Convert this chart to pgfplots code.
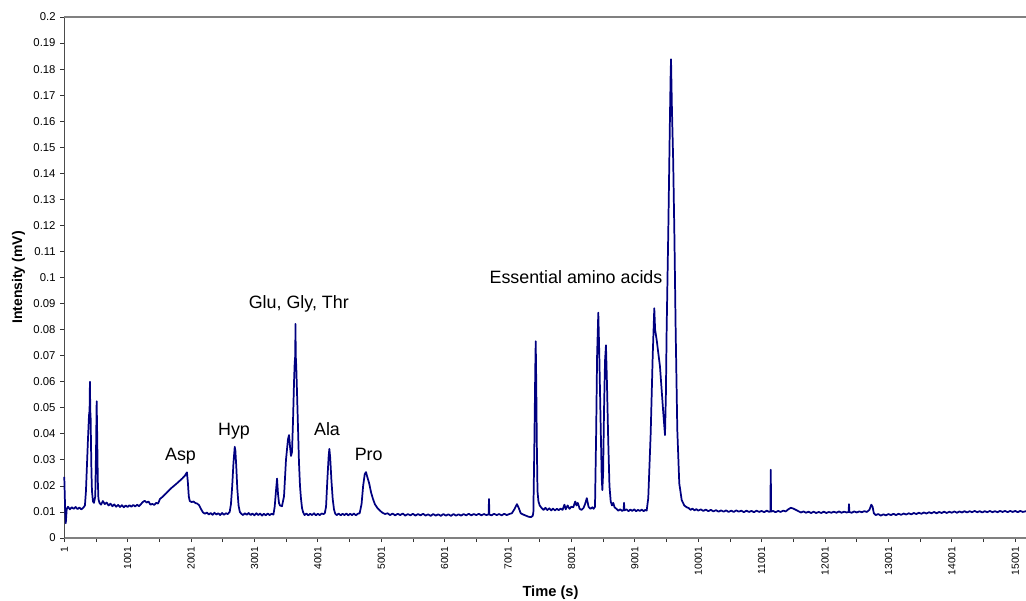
\documentclass[border=0pt]{standalone}
\usepackage{pgfplots}
\pgfplotsset{compat=1.18}
\usepackage{fontspec}
\setmainfont{Liberation Sans}
\usetikzlibrary{calc}
\definecolor{navyline}{RGB}{0,0,128}
\definecolor{axgray}{RGB}{128,128,128}
\begin{document}
\begin{tikzpicture}
\begin{axis}[
  scale only axis,
  width=721.3pt, height=390.75pt,
  xmin=1, xmax=15170, ymin=0, ymax=0.2,
  clip=false,
  axis x line*=bottom, axis y line*=left,
  x axis line style={axgray, line width=1.2pt, -},
  y axis line style={black!70, line width=0.9pt, -},
  scaled x ticks=false, scaled y ticks=false,
  xtick={1,1001,2001,3001,4001,5001,6001,7001,8001,9001,10001,11001,12001,13001,14001,15001},
  xticklabels={1,1001,2001,3001,4001,5001,6001,7001,8001,9001,10001,11001,12001,13001,14001,15001},
  minor xtick={501,1501,2501,3501,4501,5501,6501,7501,8501,9501,10501,11501,12501,13501,14501},
  ytick={0,0.01,0.02,0.03,0.04,0.05,0.06,0.07,0.08,0.09,0.1,0.11,0.12,0.13,0.14,0.15,0.16,0.17,0.18,0.19,0.2},
  yticklabels={0,0.01,0.02,0.03,0.04,0.05,0.06,0.07,0.08,0.09,0.1,0.11,0.12,0.13,0.14,0.15,0.16,0.17,0.18,0.19,0.2},
  tick align=outside,
  major tick length=3pt, minor tick length=3pt,
  every tick/.style={black!80, line width=0.6pt},
  xticklabel style={rotate=90, anchor=east, font=\fontsize{7.7}{8.5}\selectfont},
  yticklabel style={font=\fontsize{8.5}{10}\selectfont},
  xlabel={\textbf{Time (s)}},
  ylabel={\textbf{Intensity (mV)}},
  xlabel style={at={(axis description cs:0.5056,-0.1127)}, anchor=base, font=\fontsize{11}{13}\selectfont},
  ylabel style={at={(axis description cs:-0.0475,0.5)}, anchor=center, font=\fontsize{10.5}{12}\selectfont},
]
\addplot[navyline, line width=1.3pt, line join=round] coordinates {
(1,0.0235)(15,0.011)(25,0.0057)(40,0.0112)
(60,0.0120)(90,0.0110)(120,0.0118)(150,0.0112)(180,0.0119)(210,0.0111)(240,0.0117)(270,0.0110)(300,0.0116)(327,0.0125)
(343,0.018)(359,0.028)(375,0.038)(391,0.047)(400,0.049)(406,0.060)(411,0.049)(417,0.046)(424,0.034)(430,0.025)(438,0.018)(454,0.014)(470,0.0135)(490,0.016)(503,0.035)(512,0.0525)(520,0.040)(530,0.022)(540,0.015)(556,0.0135)
(580,0.0128)(610,0.0142)(640,0.0130)(670,0.0136)(700,0.0125)(730,0.0132)(760,0.0122)(790,0.0129)(820,0.0120)(850,0.0127)(880,0.0119)(910,0.0126)(940,0.0118)(970,0.0125)(1000,0.0119)(1030,0.0126)(1060,0.0120)(1090,0.0127)(1120,0.0121)(1150,0.0128)(1180,0.0122)
(1210,0.0130)(1240,0.0138)(1270,0.0143)(1300,0.0136)(1330,0.0140)(1360,0.0128)(1390,0.0131)(1420,0.0127)(1450,0.0135)
(1480,0.0132)(1511,0.0150)(1560,0.0160)(1610,0.0172)(1660,0.0185)(1710,0.0196)(1760,0.0206)(1810,0.0217)(1860,0.0228)(1900,0.0238)(1936,0.0252)(1950,0.0215)(1965,0.0160)(1980,0.0142)(2010,0.0138)(2040,0.0140)(2070,0.0134)(2100,0.0132)(2130,0.0125)(2160,0.0110)(2190,0.0098)(2220,0.0093)
(2250,0.0098)(2280,0.0090)(2310,0.0096)(2340,0.0089)(2370,0.0097)(2400,0.0090)(2430,0.0095)(2460,0.0088)(2490,0.0096)(2520,0.0089)(2550,0.0095)(2580,0.0092)
(2610,0.0100)(2630,0.0130)(2650,0.0200)(2670,0.0290)(2690,0.0350)(2700,0.0335)(2715,0.0270)(2730,0.0190)(2750,0.0125)(2770,0.0100)(2790,0.0094)
(2820,0.0088)(2850,0.0095)(2880,0.0089)(2910,0.0096)(2940,0.0088)(2970,0.0094)(3000,0.0087)(3030,0.0095)(3060,0.0088)(3090,0.0094)(3120,0.0086)(3150,0.0093)(3180,0.0087)(3210,0.0094)(3240,0.0088)(3270,0.0093)(3300,0.0090)
(3320,0.0120)(3340,0.0180)(3357,0.0228)(3372,0.0170)(3388,0.0134)(3404,0.0125)(3435,0.0122)(3467,0.0160)(3498,0.0300)(3530,0.0380)(3546,0.0395)(3562,0.0350)(3577,0.0315)
(3593,0.0330)(3609,0.0450)(3625,0.0600)(3635,0.0670)(3644,0.0700)(3648,0.0822)(3652,0.0700)(3660,0.0660)(3672,0.0560)(3688,0.0420)(3703,0.0290)(3719,0.0200)(3735,0.0150)(3751,0.0115)(3767,0.0100)
(3790,0.0088)(3820,0.0094)(3850,0.0087)(3880,0.0093)(3910,0.0088)(3940,0.0095)(3970,0.0087)(4000,0.0093)(4030,0.0088)(4060,0.0094)(4090,0.0092)
(4110,0.0095)(4130,0.0120)(4150,0.0220)(4170,0.0310)(4182,0.0342)(4195,0.0310)(4215,0.0220)(4235,0.0150)(4255,0.0110)(4275,0.0093)
(4300,0.0088)(4330,0.0094)(4360,0.0087)(4390,0.0093)(4420,0.0088)(4450,0.0094)(4480,0.0087)(4510,0.0093)(4540,0.0088)(4570,0.0094)(4600,0.0087)(4630,0.0093)
(4660,0.0095)(4690,0.0130)(4715,0.0200)(4740,0.0245)(4760,0.0253)(4780,0.0235)(4810,0.0210)(4840,0.0175)(4870,0.0150)(4900,0.0130)(4940,0.0115)(4980,0.0105)(5020,0.0097)(5060,0.0092)
(5100,0.0095)(5140,0.0088)(5180,0.0094)(5220,0.0087)(5260,0.0093)(5300,0.0088)(5340,0.0094)(5380,0.0086)(5420,0.0092)(5460,0.0087)(5500,0.0093)(5540,0.0086)(5580,0.0092)(5620,0.0087)(5660,0.0093)(5700,0.0086)(5740,0.0091)(5780,0.0085)(5820,0.0092)(5860,0.0086)(5900,0.0091)(5940,0.0085)(5980,0.0092)(6020,0.0086)(6060,0.0091)(6100,0.0085)(6140,0.0092)(6180,0.0086)(6220,0.0091)(6260,0.0086)(6300,0.0092)(6340,0.0087)(6380,0.0093)(6420,0.0087)(6460,0.0092)(6500,0.0088)(6540,0.0093)(6580,0.0087)(6620,0.0092)(6660,0.0088)(6694,0.0091)(6700,0.0150)(6706,0.0090)(6740,0.0087)(6780,0.0093)(6820,0.0088)(6860,0.0092)(6900,0.0087)(6940,0.0093)(6980,0.0088)(7020,0.0092)
(7060,0.0095)(7100,0.0110)(7140,0.0130)(7170,0.0115)(7200,0.0095)(7240,0.0090)(7280,0.0086)(7320,0.0082)(7360,0.0080)(7390,0.0085)
(7400,0.0100)(7415,0.0350)(7430,0.0650)(7437,0.0755)(7445,0.0600)(7455,0.0350)(7465,0.0180)(7480,0.0140)(7500,0.0125)
(7530,0.0115)(7560,0.0108)(7590,0.0116)(7620,0.0107)(7650,0.0114)(7680,0.0106)(7710,0.0113)(7740,0.0106)(7770,0.0112)(7800,0.0107)(7830,0.0113)(7860,0.0108)(7890,0.0128)(7910,0.0110)(7940,0.0125)(7970,0.0112)(8000,0.0120)(8030,0.0118)(8060,0.0140)(8080,0.0125)(8100,0.0135)(8130,0.0112)(8160,0.0108)(8190,0.0115)(8215,0.0130)(8243,0.0153)(8270,0.0120)(8300,0.0112)(8330,0.0118)(8350,0.0112)
(8372,0.0120)(8390,0.0400)(8405,0.0700)(8424,0.0865)(8440,0.0700)(8460,0.0450)(8478,0.0230)(8488,0.0184)(8500,0.0250)(8515,0.0500)(8530,0.0680)(8545,0.0740)(8560,0.0600)(8580,0.0380)(8600,0.0200)(8620,0.0140)(8640,0.0125)(8660,0.0135)(8680,0.0118)
(8710,0.0112)(8740,0.0105)(8770,0.0110)(8800,0.0104)(8824,0.0108)(8830,0.0135)(8836,0.0106)(8870,0.0110)(8900,0.0103)(8930,0.0109)(8960,0.0104)(8990,0.0110)(9020,0.0103)(9050,0.0108)(9080,0.0104)(9110,0.0109)(9140,0.0103)(9165,0.0108)
(9187,0.0105)(9212,0.0153)(9250,0.0400)(9282,0.0698)(9307,0.0882)(9320,0.0800)(9345,0.0760)(9397,0.0658)(9449,0.0480)(9476,0.0395)(9490,0.0550)(9502,0.0800)(9528,0.1180)(9555,0.1630)(9565,0.1780)(9571,0.1838)(9585,0.1650)(9605,0.1450)(9625,0.1150)(9644,0.0800)(9670,0.0415)(9701,0.0210)(9739,0.0146)(9780,0.0125)(9818,0.0118)
(9850,0.0115)(9880,0.0108)(9910,0.0113)(9940,0.0106)(9970,0.0111)(10000,0.0105)(10040,0.0110)(10080,0.0104)(10120,0.0109)(10160,0.0103)(10200,0.0108)(10240,0.0102)(10280,0.0107)(10320,0.0101)(10360,0.0106)(10400,0.0101)(10440,0.0106)(10480,0.0100)(10520,0.0105)(10560,0.0100)(10600,0.0106)(10640,0.0101)(10680,0.0105)(10720,0.0099)(10760,0.0105)(10800,0.0100)(10840,0.0104)(10880,0.0099)(10920,0.0105)(10960,0.0100)(11000,0.0104)(11040,0.0099)(11080,0.0105)(11120,0.0100)(11138,0.0102)(11144,0.0262)(11150,0.0101)(11180,0.0104)(11220,0.0099)(11260,0.0104)(11300,0.0100)(11340,0.0105)(11380,0.0102)(11420,0.0110)(11460,0.0116)(11500,0.0113)(11540,0.0108)(11580,0.0103)(11620,0.0098)(11660,0.0102)(11700,0.0097)(11740,0.0101)(11780,0.0096)(11820,0.0101)(11860,0.0096)(11900,0.0100)(11940,0.0096)(11980,0.0101)(12020,0.0096)(12060,0.0100)(12100,0.0097)(12140,0.0101)(12180,0.0097)(12220,0.0102)(12260,0.0097)(12300,0.0101)(12340,0.0098)(12372,0.0100)(12378,0.0130)(12384,0.0100)(12420,0.0097)(12460,0.0102)(12500,0.0098)(12540,0.0102)(12580,0.0099)(12620,0.0103)(12660,0.0100)(12700,0.0108)(12730,0.0128)(12750,0.0120)(12770,0.0095)(12800,0.0088)
(12840,0.0092)(12880,0.0086)(12920,0.0091)(12960,0.0087)(13000,0.0092)(13040,0.0088)(13080,0.0093)(13120,0.0088)(13160,0.0093)(13200,0.0089)(13240,0.0094)(13280,0.0090)(13320,0.0095)(13360,0.0091)(13400,0.0096)(13440,0.0092)(13480,0.0097)(13520,0.0093)(13560,0.0098)(13600,0.0094)(13640,0.0099)(13680,0.0095)(13720,0.0100)(13760,0.0095)(13800,0.0100)(13840,0.0096)(13880,0.0101)(13920,0.0096)(13960,0.0101)(14000,0.0097)(14040,0.0102)(14080,0.0097)(14120,0.0102)(14160,0.0098)(14200,0.0103)(14240,0.0098)(14280,0.0103)(14320,0.0099)(14360,0.0104)(14400,0.0099)(14440,0.0103)(14480,0.0098)(14520,0.0103)(14560,0.0099)(14600,0.0104)(14640,0.0099)(14680,0.0103)(14720,0.0099)(14760,0.0104)(14800,0.0100)(14840,0.0104)(14880,0.0099)(14920,0.0104)(14960,0.0100)(15000,0.0104)(15040,0.0099)(15080,0.0104)(15120,0.0100)(15170,0.0103)
};
\draw[axgray, line width=1.2pt] (rel axis cs:0,1) -- (rel axis cs:1,1);
\begin{scope}[every node/.style={anchor=base, font=\fontsize{13.4}{15}\selectfont}]
\node at (axis cs:1834,0.0299) {Asp};
\node at (axis cs:2678,0.0395) {Hyp};
\node at (axis cs:3700,0.0882) {Glu, Gly, Thr};
\node at (axis cs:4145,0.0395) {Ala};
\node at (axis cs:4802,0.0299) {Pro};
\node at (axis cs:8072,0.0978) {Essential amino acids};
\end{scope}
\end{axis}
\pgfresetboundingbox
\path[use as bounding box] ($(current axis.south west)+(-48.2pt,-46.5pt)$) rectangle ($(current axis.north east)+(0pt,12.75pt)$);
\end{tikzpicture}
\end{document}
